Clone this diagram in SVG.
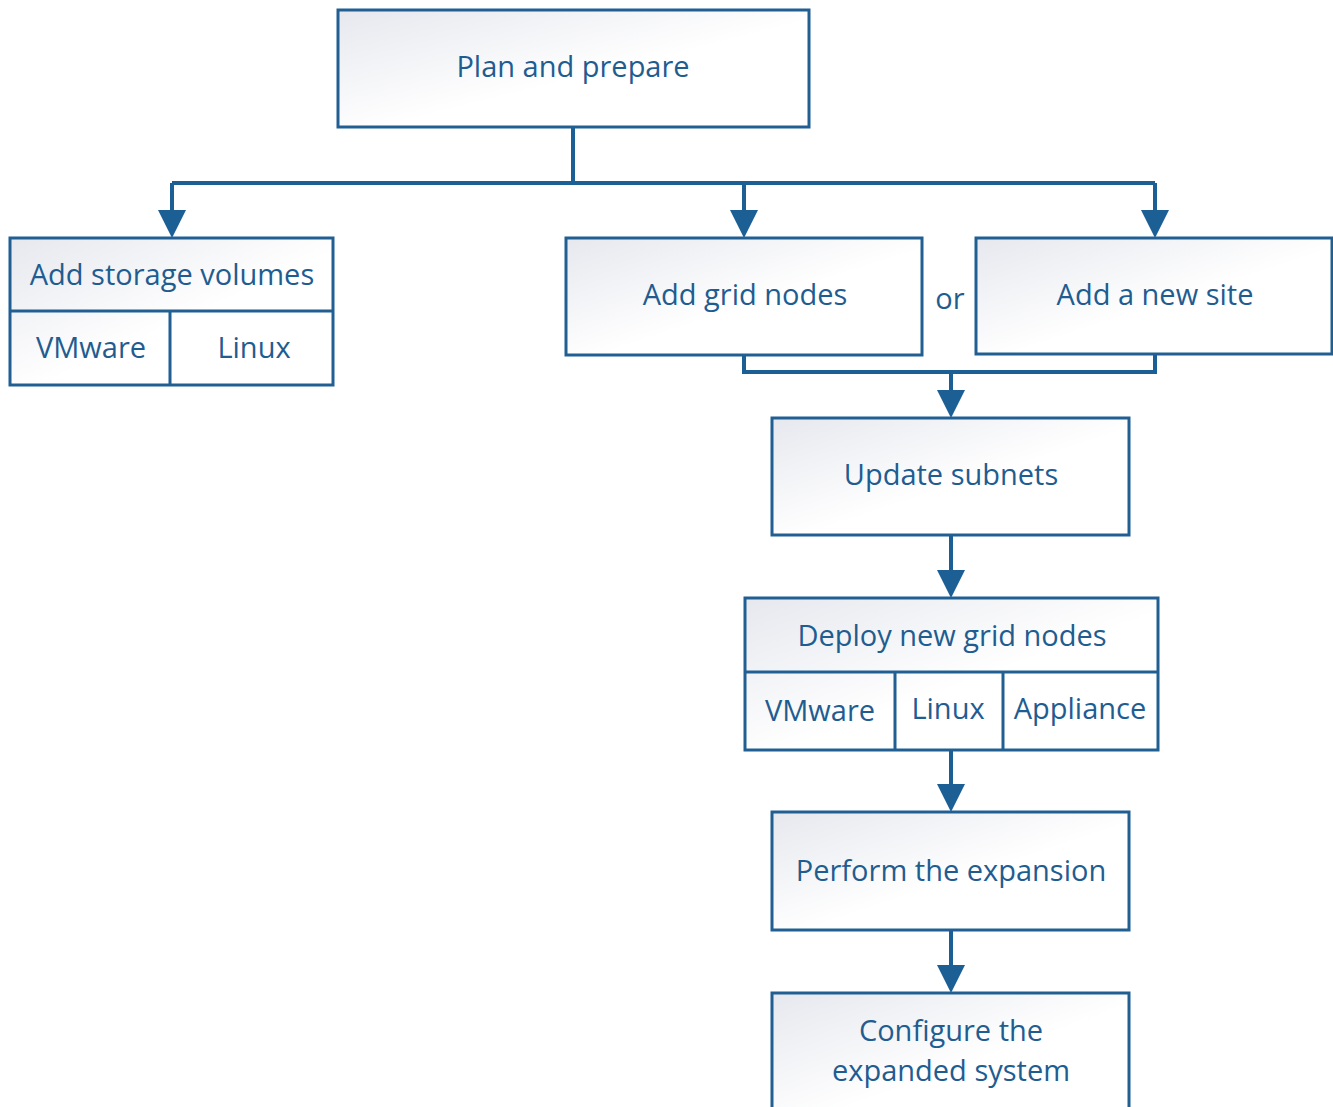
<svg xmlns="http://www.w3.org/2000/svg" width="1333" height="1107" viewBox="0 0 1333 1107">
<defs>
<linearGradient id="g" x1="0" y1="0" x2="1" y2="1">
<stop offset="0" stop-color="#e6e8ee"/>
<stop offset="0.55" stop-color="#ffffff"/>
<stop offset="1" stop-color="#ffffff"/>
</linearGradient>
</defs>
<style>
.box{fill:url(#g);stroke:#215f93;stroke-width:3}
.div{stroke:#215f93;stroke-width:3;fill:none}
.t{font-family:"Open Sans","Noto Sans",sans-serif;font-size:29px;fill:#1f5d91;text-anchor:middle}
.c{stroke:#1c5f95;stroke-width:4;fill:none}
.a{fill:#1c5f95}
</style>
<rect width="1333" height="1107" fill="#ffffff"/>
<g id="connectors">
<path class="c" d="M573,127 V183 M172,183 H1155 M172,183 V212 M744,183 V212 M1155,183 V212"/>
<path class="a" d="M158,210 H186 L172,238 Z M730,210 H758 L744,238 Z M1141,210 H1169 L1155,238 Z"/>
<path class="c" d="M744,355 V372 H1155 V354 M951,372 V392"/>
<path class="a" d="M937,390 H965 L951,418 Z"/>
<path class="c" d="M951,535 V572"/>
<path class="a" d="M937,570 H965 L951,598 Z"/>
<path class="c" d="M951,750 V786"/>
<path class="a" d="M937,784 H965 L951,812 Z"/>
<path class="c" d="M951,930 V967"/>
<path class="a" d="M937,965 H965 L951,993 Z"/>
</g>
<g id="plan">
<rect class="box" x="338" y="10" width="471" height="117"/>
<text class="t" x="573" y="77">Plan and prepare</text>
</g>
<g id="storage">
<rect class="box" x="10" y="238" width="323" height="147"/>
<path class="div" d="M10,311 H333 M170,311 V385"/>
<text class="t" x="172" y="285">Add storage volumes</text>
<text class="t" x="91" y="358">VMware</text>
<text class="t" x="254" y="358">Linux</text>
</g>
<g id="gridnodes">
<rect class="box" x="566" y="238" width="356" height="117"/>
<text class="t" x="745" y="305">Add grid nodes</text>
</g>
<text class="t" x="950" y="309">or</text>
<g id="newsite">
<rect class="box" x="976" y="238" width="356" height="116"/>
<text class="t" x="1155" y="305">Add a new site</text>
</g>
<g id="subnets">
<rect class="box" x="772" y="418" width="357" height="117"/>
<text class="t" x="951" y="485">Update subnets</text>
</g>
<g id="deploy">
<rect class="box" x="745" y="598" width="413" height="152"/>
<path class="div" d="M745,672 H1158 M895,672 V750 M1003,672 V750"/>
<text class="t" x="952" y="646">Deploy new grid nodes</text>
<text class="t" x="820" y="721">VMware</text>
<text class="t" x="948" y="719">Linux</text>
<text class="t" x="1080" y="719">Appliance</text>
</g>
<g id="perform">
<rect class="box" x="772" y="812" width="357" height="118"/>
<text class="t" x="951" y="881">Perform the expansion</text>
</g>
<g id="configure">
<rect class="box" x="772" y="993" width="357" height="130"/>
<text class="t" x="951" y="1041">Configure the</text>
<text class="t" x="951" y="1081">expanded system</text>
</g>
</svg>
